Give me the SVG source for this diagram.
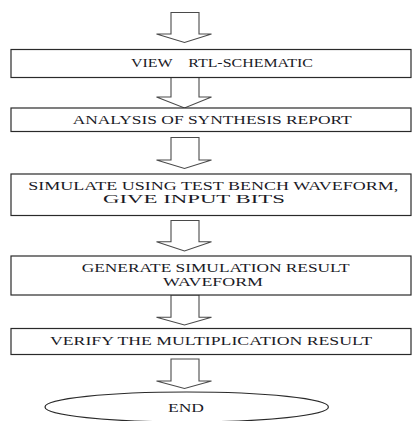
<svg xmlns="http://www.w3.org/2000/svg" width="412" height="421" viewBox="0 0 412 421">
<style>
.box{fill:#fff;stroke:#2a2a2a;stroke-width:1.2}
.arr{fill:#fff;stroke:#4a4a4a;stroke-width:1.1;stroke-linejoin:miter}
.t{font-family:"Liberation Serif","Times New Roman",serif;font-size:13.3px;fill:#1a1a26}
.s{font-size:11.5px}
</style>
<rect width="412" height="421" fill="#fff"/>
<g id="connectors">
<polygon class="arr" points="171,12.5 199,12.5 199,34 211.5,34 184.5,42.5 156.5,34 171,34"/>
<polygon class="arr" points="171,77.5 199,77.5 199,97 211.5,97 184.5,108 156.5,97 171,97"/>
<polygon class="arr" points="171,137.5 199,137.5 199,160 211.5,160 184.5,168.5 156.5,160 171,160"/>
<polygon class="arr" points="171,220.5 199,220.5 199,241.7 211.5,241.7 184.5,251 156.5,241.7 171,241.7"/>
<polygon class="arr" points="171,295 199,295 199,317.3 211.5,317.3 184.5,325 156.5,317.3 171,317.3"/>
<polygon class="arr" points="171,359 199,359 199,381 211.5,381 184.5,388.5 156.5,381 171,381"/>
</g>
<g id="view-rtl">
<rect class="box" x="11" y="49.5" width="400" height="28"/>
<text class="t" x="131" y="66.7" textLength="182" lengthAdjust="spacingAndGlyphs" xml:space="preserve">VIEW    RTL-SCHEMATIC</text>
</g>
<g id="analysis">
<rect class="box" x="11" y="108" width="400" height="23.5"/>
<text class="t" x="72.7" y="124.3" textLength="279" lengthAdjust="spacingAndGlyphs">ANALYSIS OF SYNTHESIS REPORT</text>
</g>
<g id="simulate">
<rect class="box" x="11" y="174" width="400" height="41.5"/>
<text class="t s" x="28.3" y="189.5" textLength="370" lengthAdjust="spacingAndGlyphs">SIMULATE USING TEST BENCH WAVEFORM,</text>
<text class="t s" x="103" y="202.9" textLength="182" lengthAdjust="spacingAndGlyphs">GIVE INPUT BITS</text>
</g>
<g id="generate">
<rect class="box" x="11" y="256" width="400" height="39"/>
<text class="t s" x="81.7" y="272.4" textLength="268" lengthAdjust="spacingAndGlyphs">GENERATE SIMULATION RESULT</text>
<text class="t s" x="163" y="285.6" textLength="100" lengthAdjust="spacingAndGlyphs">WAVEFORM</text>
</g>
<g id="verify">
<rect class="box" x="11" y="328.5" width="400" height="26"/>
<text class="t" x="50" y="345" textLength="322" lengthAdjust="spacingAndGlyphs">VERIFY THE MULTIPLICATION RESULT</text>
</g>
<g id="end">
<ellipse class="box" cx="186.7" cy="407" rx="141.7" ry="15"/>
<text class="t" x="168" y="412" textLength="36" lengthAdjust="spacingAndGlyphs">END</text>
</g>
</svg>
